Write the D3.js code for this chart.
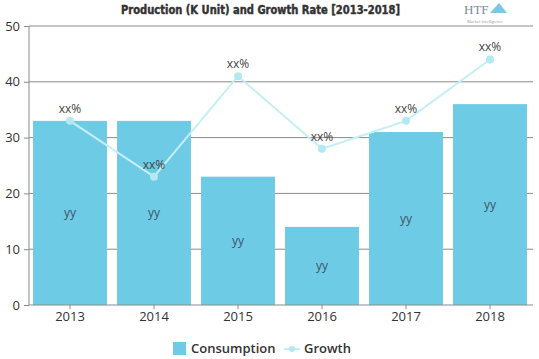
<!DOCTYPE html>
<html><head><meta charset="utf-8">
<script src="https://cdn.jsdelivr.net/npm/d3@7"></script>
<style>
body{margin:0;background:#fff;}
svg{display:block;font-family:"Open Sans","Noto Sans",sans-serif;}
</style></head>
<body>
<svg id="chart" width="539" height="359"></svg>
<script>
const years = ["2013","2014","2015","2016","2017","2018"];
const consumption = [33, 33, 23, 14, 31, 36];
const growth = [33, 23, 41, 28, 33, 44];
const barLabels = ["yy","yy","yy","yy","yy","yy"];
const growthLabels = ["xx%","xx%","xx%","xx%","xx%","xx%"];
const yTicks = [0,10,20,30,40,50];

const svg = d3.select("#chart");
const x = d3.scaleBand().domain(years).range([28, 532]).paddingInner(0.12).paddingOuter(0.06);
const y = d3.scaleLinear().domain([0, 50]).range([305, 26]);

// gridlines
svg.append("g").selectAll("line").data(yTicks.filter(d=>d>0)).join("line")
  .attr("x1", 29).attr("x2", 533).attr("y1", d=>y(d)).attr("y2", d=>y(d))
  .attr("stroke", "#8a8a8a").attr("stroke-width", 1);

// bars
svg.append("g").selectAll("rect").data(consumption).join("rect")
  .attr("x", (d,i)=>x(years[i])).attr("width", x.bandwidth())
  .attr("y", d=>y(d)).attr("height", d=>y(0)-y(d))
  .attr("fill", "#6ecbe6");

// bar labels
svg.append("g").selectAll("text").data(consumption).join("text")
  .attr("x", (d,i)=>x(years[i])+x.bandwidth()/2)
  .attr("y", d=>(y(d)+y(0))/2 + 4)
  .attr("text-anchor","middle").attr("font-size", 12).attr("fill","#3f5566")
  .text((d,i)=>barLabels[i]);

// y axis
const yAxis = d3.axisLeft(y).tickValues(yTicks).tickSize(5).tickPadding(4);
const gy = svg.append("g").attr("transform","translate(29,0)").call(yAxis);
gy.select(".domain").attr("stroke","#8a8a8a").attr("d","M0,26V305");
gy.selectAll(".tick line").attr("stroke","#8a8a8a");
gy.selectAll(".tick text").attr("font-size",13).attr("fill","#333").attr("font-family","Open Sans, sans-serif");

// x axis
const xAxis = d3.axisBottom(x).tickSize(4).tickPadding(3);
const gx = svg.append("g").attr("transform","translate(0,305)").call(xAxis);
gx.select(".domain").attr("stroke","#8a8a8a").attr("d","M29,0H533");
gx.selectAll(".tick line").attr("stroke","#8a8a8a");
gx.selectAll(".tick text").attr("font-size",13).attr("fill","#333").attr("font-family","Open Sans, sans-serif");

// growth line
const line = d3.line().x((d,i)=>x(years[i])+x.bandwidth()/2).y(d=>y(d));
svg.append("path").datum(growth).attr("d", line)
  .attr("fill","none").attr("stroke","#c4eff5").attr("stroke-width",2);
svg.append("g").selectAll("circle").data(growth).join("circle")
  .attr("cx",(d,i)=>x(years[i])+x.bandwidth()/2).attr("cy",d=>y(d)).attr("r",4)
  .attr("fill","#b2e9f2");
svg.append("g").selectAll("text").data(growth).join("text")
  .attr("x",(d,i)=>x(years[i])+x.bandwidth()/2).attr("y",d=>y(d)-8)
  .attr("text-anchor","middle").attr("font-size",12).attr("fill","#444")
  .text((d,i)=>growthLabels[i]);

// title
svg.append("text").attr("x",121).attr("y",14)
  .attr("font-family","DejaVu Sans Condensed, DejaVu Sans, sans-serif")
  .attr("font-weight","bold").attr("font-size",11.5).attr("fill","#333")
  .attr("textLength",279).attr("lengthAdjust","spacingAndGlyphs")
  .attr("stroke","#333").attr("stroke-width",0.4)
  .text("Production (K Unit) and Growth Rate [2013-2018]");

// logo
svg.append("text").attr("x",464).attr("y",14).attr("font-family","Liberation Serif, serif")
  .attr("font-size",13).attr("fill","#7a8a96").text("HTF");
svg.append("path").attr("d","M490,13 L499,3 L507,13 Z").attr("fill","#5fb6dd").attr("opacity",0.8);
svg.append("text").attr("x",485).attr("y",23).attr("text-anchor","middle")
  .attr("font-size",4).attr("fill","#8a9aa6").text("Market Intelligence");

// legend
const lg = svg.append("g");
lg.append("rect").attr("x",173).attr("y",342).attr("width",13).attr("height",13).attr("fill","#6ecbe6");
lg.append("text").attr("x",191).attr("y",353).attr("font-size",13).attr("font-weight",600)
  .attr("fill","#333").text("Consumption");
lg.append("line").attr("x1",284).attr("x2",300).attr("y1",349).attr("y2",349)
  .attr("stroke","#c4eff5").attr("stroke-width",2);
lg.append("circle").attr("cx",292).attr("cy",349).attr("r",3).attr("fill","#b2e9f2");
lg.append("text").attr("x",304).attr("y",353).attr("font-size",13).attr("font-weight",600)
  .attr("fill","#333").text("Growth");
</script>
</body></html>
